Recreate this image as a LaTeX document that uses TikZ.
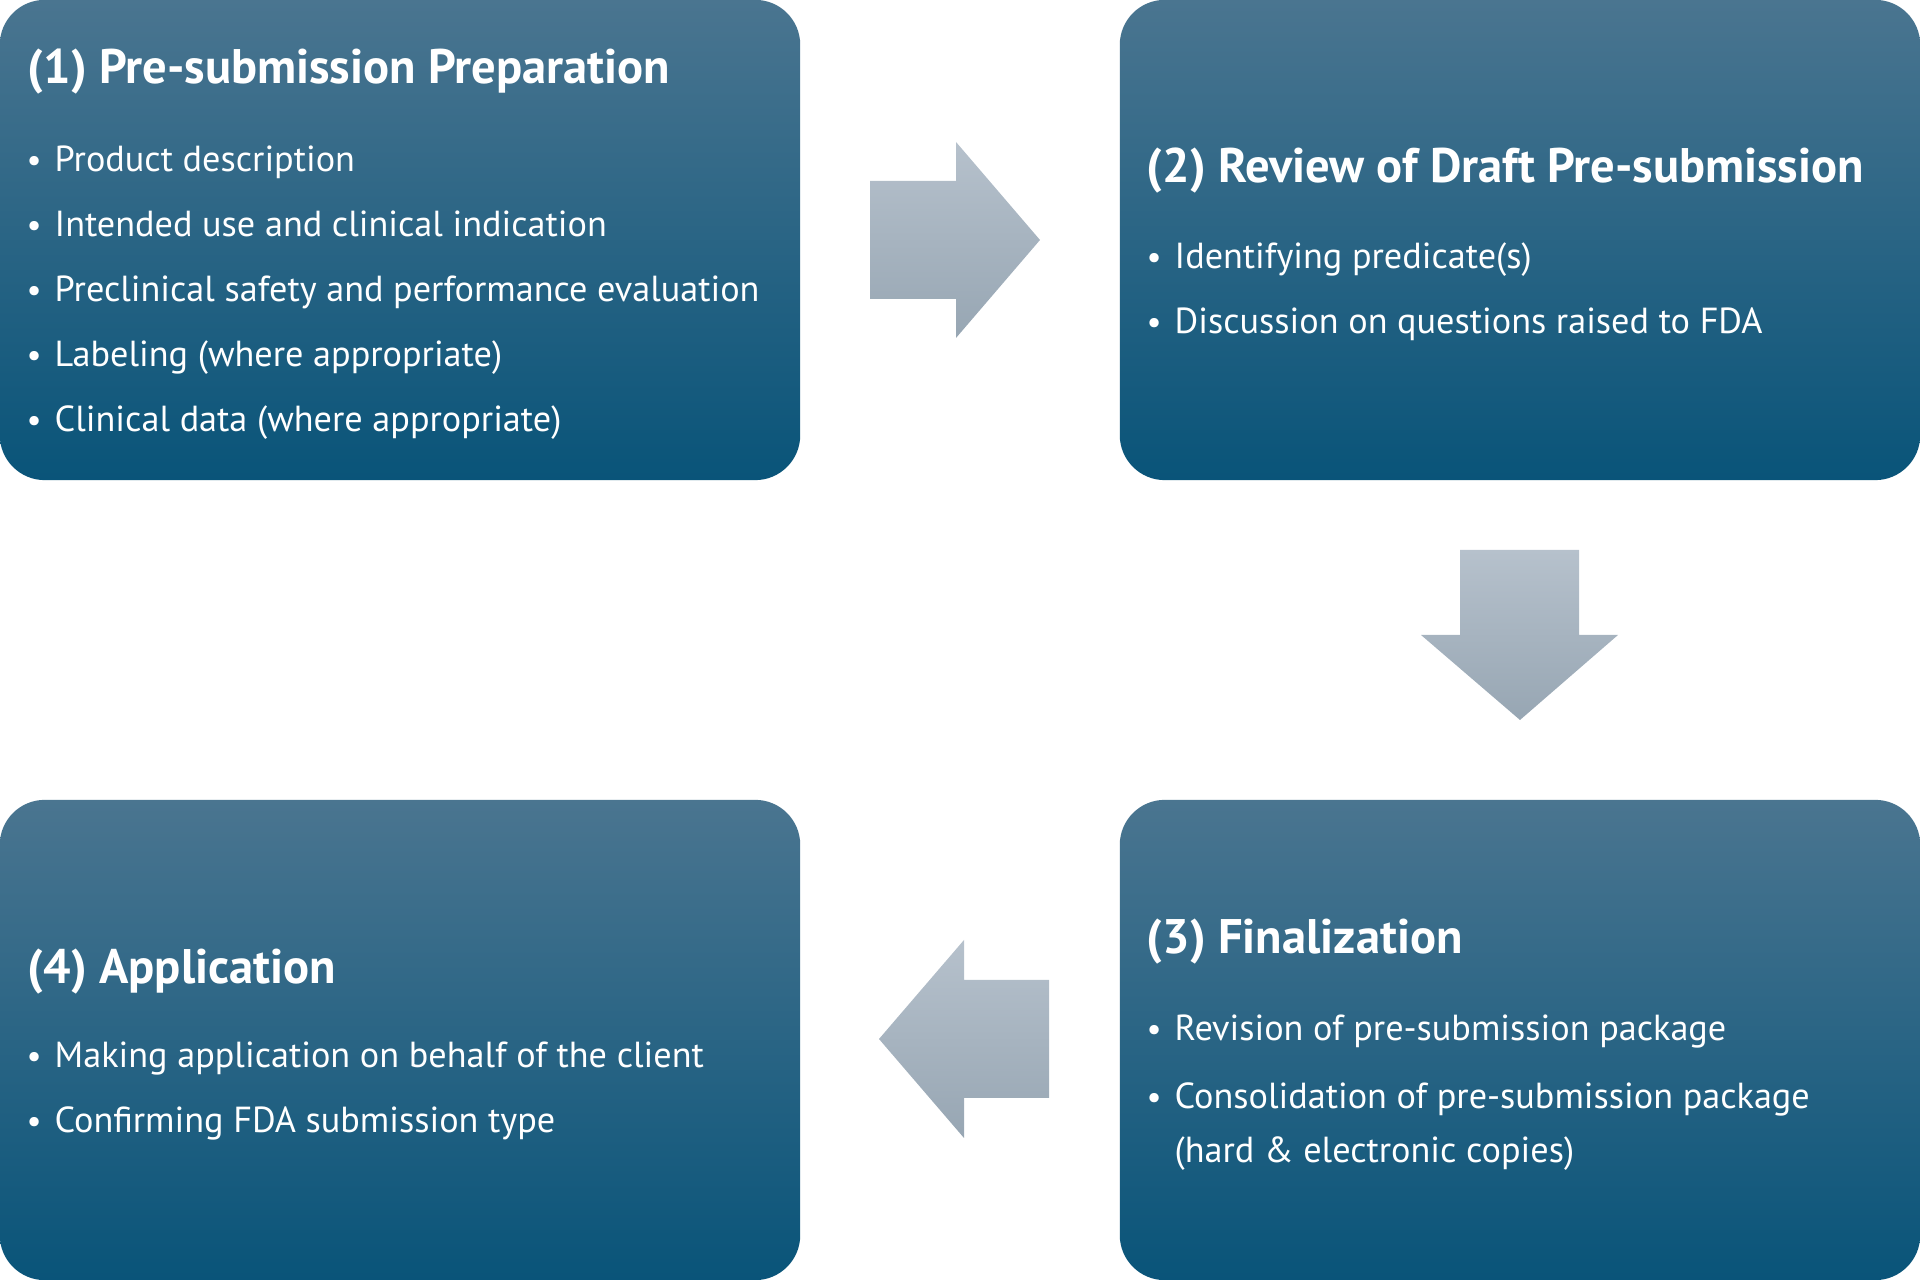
\documentclass[tikz,border=0pt]{standalone}
\usepackage{fontspec}
\setmainfont{PT Sans}
\usetikzlibrary{positioning}
\definecolor{boxtop}{RGB}{74,117,144}
\definecolor{boxmid}{RGB}{18,93,130}
\definecolor{boxbot}{RGB}{9,84,121}
\definecolor{arrtop}{RGB}{182,193,204}
\definecolor{arrbot}{RGB}{151,166,179}
\tikzstyle{stage} = [rectangle, rounded corners=0.45cm, top color=boxtop,
    middle color=boxmid, bottom color=boxbot, minimum width=8cm,
    minimum height=4.8cm, inner sep=0pt]
\tikzstyle{head} = [font=\bfseries\fontsize{13.8}{17}\selectfont, text=white,
    anchor=base west, inner sep=0pt]
\tikzstyle{item} = [font=\fontsize{10.3}{15.4}\selectfont, text=white,
    anchor=base west, inner sep=0pt, align=left]
\tikzstyle{blockarrow} = [top color=arrtop, bottom color=arrbot]
\newcommand{\bul}{\makebox[0.28cm][l]{\raisebox{0pt}{\fontsize{9.5}{9.5}\selectfont\textbullet}}}

\begin{document}
\begin{tikzpicture}[x=0.01cm,y=-0.01cm]
  \useasboundingbox (0,0) rectangle (1920,1280);

  \node[stage] (prep)   at (400,240)  {};
  \node[stage] (review) at (1520,240) {};
  \node[stage] (final)  at (1520,1040) {};
  \node[stage] (apply)  at (400,1040) {};

  % (1)
  \node[head] (prepT) at (27,84) {(1) Pre-submission Preparation};
  \node[item] (prepA) at (26,172) {\bul Product description};
  \node[item] (prepB) at (26,237) {\bul Intended use and clinical indication};
  \node[item] (prepC) at (26,302) {\bul Preclinical safety and performance evaluation};
  \node[item] (prepD) at (26,367) {\bul Labeling (where appropriate)};
  \node[item] (prepE) at (26,432) {\bul Clinical data (where appropriate)};

  % (2)
  \node[head] (reviewT) at (1146,183) {(2) Review of Draft Pre-submission};
  \node[item] (reviewA) at (1146,269) {\bul Identifying predicate(s)};
  \node[item] (reviewB) at (1146,334) {\bul Discussion on questions raised to FDA};

  % (3)
  \node[head] (finalT) at (1146,954) {(3) Finalization};
  \node[item] (finalA) at (1146,1041) {\bul Revision of pre-submission package};
  \node[item, anchor=north west] (finalB) at (1146,1082)
      {\bul Consolidation of pre-submission package\\
       \hspace*{0.28cm}(hard \& electronic copies)};

  % (4)
  \node[head] (applyT) at (27,984) {(4) Application};
  \node[item] (applyA) at (26,1068) {\bul Making application on behalf of the client};
  \node[item] (applyB) at (26,1133) {\bul Confirming FDA submission type};

  % block arrows
  \path[blockarrow] (870,181) -- (956,181) -- (956,142) -- (1040,240)
      -- (956,338) -- (956,299) -- (870,299) -- cycle;
  \path[blockarrow] (1460,550) -- (1579,550) -- (1579,635) -- (1618,635)
      -- (1520,720) -- (1421,635) -- (1460,635) -- cycle;
  \path[blockarrow] (1049,980) -- (964,980) -- (964,940) -- (879,1039)
      -- (964,1138) -- (964,1098) -- (1049,1098) -- cycle;
\end{tikzpicture}
\end{document}
